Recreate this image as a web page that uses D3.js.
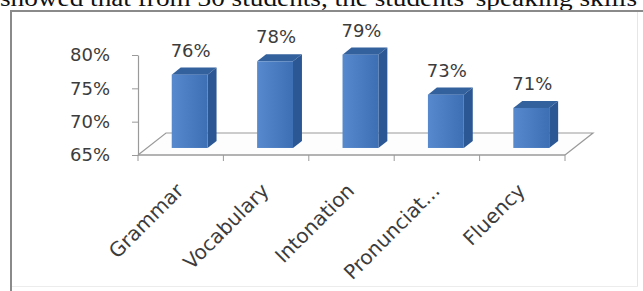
<!DOCTYPE html>
<html>
<head>
<meta charset="utf-8">
<script src="https://cdn.jsdelivr.net/npm/d3@7"></script>
<style>
  html, body { margin: 0; padding: 0; background: #fff; overflow: hidden; }
</style>
</head>
<body>
<script>
// data
var categories = ["Grammar", "Vocabulary", "Intonation", "Pronunciat...", "Fluency"];
var values = [76, 78, 79, 73, 71];
var yTicks = [65, 70, 75, 80];

var w = 643, h = 291;

// 3d floor depth and where the bars sit inside it
var depth = { dx: 28, dy: -22 };
var barFront = 0.32, barBack = 0.64;

var svg = d3.select("body").append("svg")
  .attr("width", w)
  .attr("height", h);

var defs = svg.append("defs");
var grad = defs.append("linearGradient").attr("id", "front");
grad.append("stop").attr("offset", "0%").attr("stop-color", "#5689cd");
grad.append("stop").attr("offset", "100%").attr("stop-color", "#3d6fb5");

// cut-off sentence above the figure
svg.append("text")
  .attr("x", 0)
  .attr("y", 6)
  .attr("textLength", 637)
  .attr("lengthAdjust", "spacingAndGlyphs")
  .attr("font-family", "Liberation Serif, serif")
  .attr("font-size", 24)
  .attr("fill", "#111")
  .text("showed that from 30 students, the students' speaking skills");

// figure frame
svg.append("line").attr("x1", 11).attr("x2", 11).attr("y1", 10).attr("y2", 291)
  .attr("stroke", "#8a8a8a").attr("stroke-width", 2);
svg.append("line").attr("x1", 10).attr("x2", 643).attr("y1", 11).attr("y2", 11)
  .attr("stroke", "#8a8a8a").attr("stroke-width", 2);
svg.append("line").attr("x1", 637.5).attr("x2", 637.5).attr("y1", 12).attr("y2", 286)
  .attr("stroke", "#e6e6e6");
svg.append("line").attr("x1", 12).attr("x2", 638).attr("y1", 286.5).attr("y2", 286.5)
  .attr("stroke", "#ececec");

// scales
var xScale = d3.scaleBand()
  .domain(categories)
  .range([138, 565]);

var yScale = d3.scaleLinear()
  .domain([65, 80])
  .range([155, 55]);

var x0 = xScale.range()[0], x1 = xScale.range()[1], y0 = yScale(65);

// floor
var floor = svg.append("g");
floor.append("path")
  .attr("d", "M" + x0 + "," + y0 +
             "L" + (x0 + depth.dx) + "," + (y0 + depth.dy) +
             "L" + (x1 + depth.dx) + "," + (y0 + depth.dy) +
             "L" + x1 + "," + y0)
  .attr("fill", "#fdfdfd")
  .attr("stroke", "#9a9a9a")
  .attr("stroke-width", 1.2);

// category tick marks on the front edge (at band boundaries)
var bounds = categories.map(function(d) { return xScale(d); }).concat([x1]);
floor.selectAll("line.tick")
  .data(bounds)
  .enter()
  .append("line")
  .attr("x1", function(d) { return d; })
  .attr("x2", function(d) { return d; })
  .attr("y1", y0)
  .attr("y2", y0 + 6)
  .attr("stroke", "#9a9a9a");

floor.append("line")
  .attr("x1", x0).attr("x2", x1).attr("y1", y0).attr("y2", y0)
  .attr("stroke", "#9a9a9a").attr("stroke-width", 1.4);

// y axis
var yAxis = d3.axisLeft(yScale)
  .tickValues(yTicks)
  .tickFormat(function(d) { return d + "%"; })
  .tickSize(6)
  .tickSizeOuter(0)
  .tickPadding(22);

var gy = svg.append("g")
  .attr("transform", "translate(" + x0 + ",0)")
  .call(yAxis);
gy.select(".domain").attr("stroke", "#9a9a9a").attr("stroke-width", 1.2);
gy.selectAll(".tick line").attr("stroke", "#9a9a9a");
gy.selectAll(".tick text")
  .attr("font-family", "DejaVu Sans, sans-serif")
  .attr("font-size", 18)
  .attr("fill", "#3c3c3c");

// bars
var bw = xScale.bandwidth() * 0.42;
var fdx = depth.dx * barFront, fdy = depth.dy * barFront;
var bdx = depth.dx * (barBack - barFront), bdy = depth.dy * (barBack - barFront);

function frontX(d, i) {
  return xScale(categories[i]) + xScale.bandwidth() / 2 - bw / 2 + fdx;
}
function frontTop(d) { return yScale(d) + fdy; }
var frontBase = y0 + fdy;

var bars = svg.selectAll("g.bar")
  .data(values)
  .enter()
  .append("g")
  .attr("class", "bar");

// side face
bars.append("path")
  .attr("d", function(d, i) {
    var xr = frontX(d, i) + bw, t = frontTop(d);
    return "M" + xr + "," + t + "L" + (xr + bdx) + "," + (t + bdy) +
           "L" + (xr + bdx) + "," + (frontBase + bdy) + "L" + xr + "," + frontBase + "Z";
  })
  .attr("fill", "#2b5794");

// top face
bars.append("path")
  .attr("d", function(d, i) {
    var xl = frontX(d, i), t = frontTop(d);
    return "M" + xl + "," + t + "L" + (xl + bdx) + "," + (t + bdy) +
           "L" + (xl + bw + bdx) + "," + (t + bdy) + "L" + (xl + bw) + "," + t + "Z";
  })
  .attr("fill", "#33619d");

// front face
bars.append("rect")
  .attr("x", function(d, i) { return frontX(d, i); })
  .attr("y", function(d) { return frontTop(d); })
  .attr("width", bw)
  .attr("height", function(d) { return frontBase - frontTop(d); })
  .attr("fill", "url(#front)");

// value labels
svg.selectAll("text.value")
  .data(values)
  .enter()
  .append("text")
  .attr("class", "value")
  .attr("text-anchor", "middle")
  .attr("x", function(d, i) { return frontX(d, i) + bw / 2 + 1; })
  .attr("y", function(d) { return frontTop(d) - 18; })
  .attr("font-family", "DejaVu Sans, sans-serif")
  .attr("font-size", 18)
  .attr("fill", "#3c3c3c")
  .text(function(d) { return d + "%"; });

// category labels
svg.selectAll("text.cat")
  .data(categories)
  .enter()
  .append("text")
  .attr("class", "cat")
  .attr("text-anchor", "end")
  .attr("transform", function(d) {
    var cx = xScale(d) + xScale.bandwidth() / 2 + 4;
    return "translate(" + cx + ",192) rotate(-45)";
  })
  .attr("font-family", "DejaVu Sans, sans-serif")
  .attr("font-size", 20)
  .attr("fill", "#3c3c3c")
  .text(function(d) { return d; });
</script>
</body>
</html>
